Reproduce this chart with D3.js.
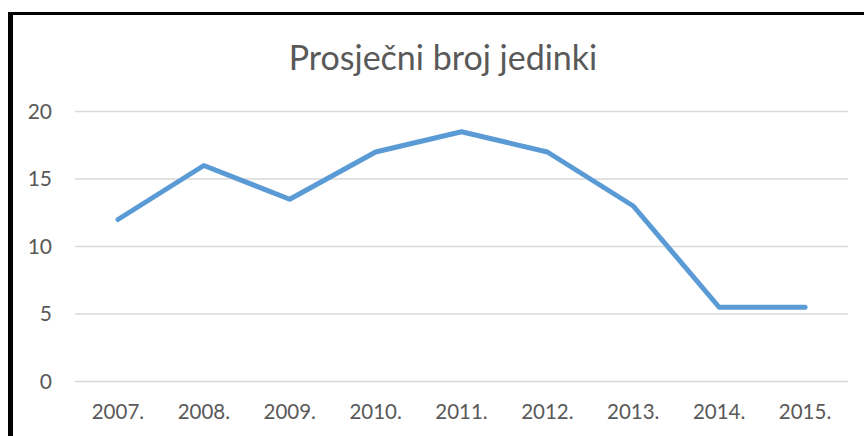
<!DOCTYPE html>
<html>
  <head>
    <meta charset="utf-8">
    <title>Prosječni broj jedinki</title>
    <style>
      body { margin: 0; background: #fff; }
      svg { display: block; font-family: Lato, "Open Sans", sans-serif; }
    </style>
  </head>
  <body>
    <script src="https://d3js.org/d3.v7.min.js"></script>
    <svg id="chart" width="864" height="436"></svg>
    <script>
      // data
      const years = ['2007.', '2008.', '2009.', '2010.', '2011.', '2012.', '2013.', '2014.', '2015.']
      const values = [12, 16, 13.5, 17, 18.5, 17, 13, 5.5, 5.5]
      const yTicks = [0, 5, 10, 15, 20]
      const title = 'Prosječni broj jedinki'

      const svg = d3.select('#chart')

      // frame, cropped on the right and bottom
      svg.append('line')
        .attr('x1', 8).attr('x2', 864).attr('y1', 13.5).attr('y2', 13.5)
        .attr('stroke', '#000').attr('stroke-width', 3)
      svg.append('line')
        .attr('x1', 10.5).attr('x2', 10.5).attr('y1', 12).attr('y2', 436)
        .attr('stroke', '#000').attr('stroke-width', 5)

      const x = d3.scaleBand()
        .domain(years)
        .range([75, 848])

      const y = d3.scaleLinear()
        .domain([0, 20])
        .range([381.5, 111.5])

      // gridlines
      svg.append('g')
        .selectAll('line')
        .data(yTicks)
        .join('line')
          .attr('x1', 75)
          .attr('x2', 848)
          .attr('y1', d => y(d))
          .attr('y2', d => y(d))
          .attr('stroke', '#d9d9d9')
          .attr('stroke-width', 1.3)

      // y labels
      svg.append('g')
        .selectAll('text')
        .data(yTicks)
        .join('text')
          .attr('x', 52)
          .attr('y', d => y(d))
          .attr('dy', '0.35em')
          .attr('text-anchor', 'end')
          .attr('fill', '#595959')
          .style('font-size', '21px')
          .text(d => d)

      // x labels
      svg.append('g')
        .selectAll('text')
        .data(years)
        .join('text')
          .attr('x', d => x(d) + x.bandwidth() / 2)
          .attr('y', 419)
          .attr('text-anchor', 'middle')
          .attr('fill', '#595959')
          .style('font-size', '20.5px')
          .text(d => d)

      // the series
      const line = d3.line()
        .x((d, i) => x(years[i]) + x.bandwidth() / 2)
        .y(d => y(d))

      svg.append('path')
        .datum(values)
        .attr('d', line)
        .attr('fill', 'none')
        .attr('stroke', '#5b9bd5')
        .attr('stroke-width', 5)
        .attr('stroke-linecap', 'round')
        .attr('stroke-linejoin', 'round')

      svg.append('text')
        .attr('x', 443)
        .attr('y', 70)
        .attr('text-anchor', 'middle')
        .attr('fill', '#595959')
        .style('font-size', '34px')
        .text(title)
    </script>
  </body>
</html>
